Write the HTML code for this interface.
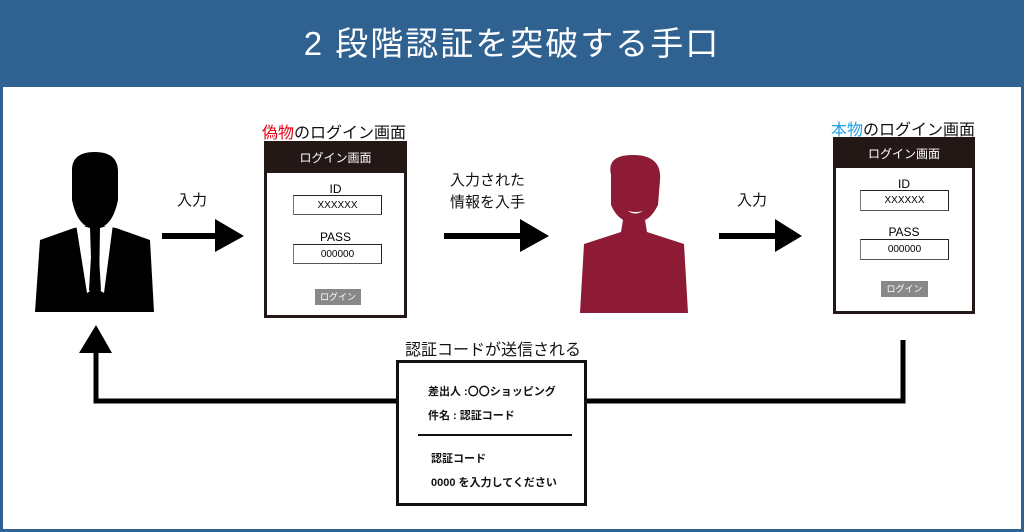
<!DOCTYPE html>
<html><head><meta charset="utf-8"><style>
*{margin:0;padding:0;box-sizing:border-box}
body{width:1024px;height:532px;position:relative;background:#fff;font-family:"Liberation Sans","Noto Sans CJK JP",sans-serif;overflow:hidden}
.abs{position:absolute}
.frame{left:0;top:0;width:1024px;height:532px;border:3px solid #2f6291;border-top:none}
.hdr{left:0;top:0;width:1024px;height:87px;background:#2f6291;color:#fff;font-size:33px;text-align:center;line-height:87px;letter-spacing:2px}
.lbl{font-size:15px;color:#111}
.box{border:3px solid #231815;background:#fff}
.bh{background:#231815;color:#fff;font-size:12px;text-align:center}
.fld{position:absolute;border:1.5px solid #222;border-left-color:#777;border-bottom-color:#555;font-size:10px;display:flex;align-items:center;justify-content:center;background:#fff}
.fl{position:absolute;font-size:12px;text-align:center;width:100%}
.btn{position:absolute;background:#888;color:#fff;font-size:9px;text-align:center}
.mail{border:3px solid #111;background:#fff;font-size:11px;font-weight:bold;color:#111}
</style></head><body>
<div class="abs hdr">2 段階認証を突破する手口</div>
<div class="abs frame"></div>

<svg class="abs" style="left:0;top:0" width="1024" height="532">
 <path d="M72,170 Q72,152 95,152 Q118,152 118,172 L118,200 Q114,220 104,226 L116,228 L150,240 L154,312 L35,312 L40,240 L74,228 L86,226 Q76,220 72,200 Z" fill="#000"/>
 <path d="M76,224 L90,228 L92,290 L87,293 Z" fill="#fff"/>
 <path d="M113,224 L100,228 L99,290 L104,293 Z" fill="#fff"/>
 <path d="M91,232 L99,232 L98,240 L101,290 L95,298 L89,290 L92,240 Z" fill="#000"/>
 <path d="M611,175 Q606,154 635,155 Q662,156 660,180 L658,205 Q652,217 645,220 L647,232 L684,244 L688,313 L580,313 L584,244 L621,232 L623,220 Q615,215 611,205 Z" fill="#8d1b35"/>
 <path d="M628,211 Q635,216 643,211 Q636,213 628,211 Z" fill="#fff"/>
 <rect x="162" y="233" width="55" height="6" fill="#000"/><polygon points="215,219 244,236 215,252" fill="#000"/>
 <rect x="444" y="233" width="78" height="6" fill="#000"/><polygon points="520,219 549,236 520,252" fill="#000"/>
 <rect x="719" y="233" width="58" height="6" fill="#000"/><polygon points="775,219 802,236 775,252" fill="#000"/>
 <polyline points="903,340 903,401 96,401 96,350" fill="none" stroke="#000" stroke-width="5"/>
 <polygon points="79,353 96,325 112,353" fill="#000"/>
</svg>

<div class="abs lbl" style="left:177px;top:189px">入力</div>
<div class="abs lbl" style="left:737px;top:189px">入力</div>
<div class="abs lbl" style="left:450px;top:170px;line-height:22px;text-align:center">入力された<br>情報を入手</div>

<div class="abs lbl" style="left:262px;top:119px;font-size:16px"><span style="color:#e60012">偽物</span>のログイン画面</div>
<div class="abs box" style="left:264px;top:141px;width:143px;height:177px">
 <div class="bh" style="height:29px;line-height:29px">ログイン画面</div>
 <div class="fl" style="top:38px">ID</div>
 <div class="fld" style="left:26px;top:51px;width:89px;height:20px">XXXXXX</div>
 <div class="fl" style="top:86px">PASS</div>
 <div class="fld" style="left:26px;top:100px;width:89px;height:20px">000000</div>
 <div class="btn" style="left:48px;top:145px;width:46px;height:16px;line-height:16px">ログイン</div>
</div>

<div class="abs lbl" style="left:831px;top:116px;font-size:16px"><span style="color:#1ea0e0">本物</span>のログイン画面</div>
<div class="abs box" style="left:833px;top:137px;width:142px;height:177px">
 <div class="bh" style="height:28px;line-height:28px">ログイン画面</div>
 <div class="fl" style="top:37px">ID</div>
 <div class="fld" style="left:24px;top:50px;width:89px;height:21px">XXXXXX</div>
 <div class="fl" style="top:85px">PASS</div>
 <div class="fld" style="left:24px;top:99px;width:89px;height:21px">000000</div>
 <div class="btn" style="left:45px;top:141px;width:47px;height:16px;line-height:16px">ログイン</div>
</div>

<div class="abs lbl" style="left:405px;top:336px;font-size:16px">認証コードが送信される</div>
<div class="abs mail" style="left:396px;top:360px;width:191px;height:146px">
 <div class="abs" style="left:29px;top:20px">差出人 :〇〇ショッピング</div>
 <div class="abs" style="left:29px;top:44px">件名 : 認証コード</div>
 <div class="abs" style="left:19px;top:71px;width:154px;height:2px;background:#111"></div>
 <div class="abs" style="left:32px;top:87px">認証コード</div>
 <div class="abs" style="left:32px;top:111px">0000 を入力してください</div>
</div>
</body></html>
